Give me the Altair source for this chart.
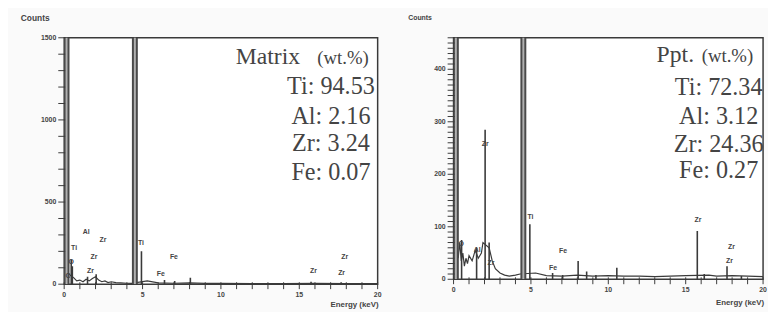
import altair as alt
import pandas as pd

# ---------------- data ----------------
energy_ticks = list(range(0, 21))
energy_labels = [0, 5, 10, 15, 20]

# Matrix spectrum (left)
m_bg_e = [0.3, 0.6, 0.8, 1.0, 1.2, 1.4, 1.6, 1.8, 2.0, 2.2, 2.4, 2.6, 2.8, 3.0, 3.3, 3.6, 4.0, 4.3,
          5.3, 6.0, 7.0, 8.0, 9.0, 10.0, 12.0, 14.0, 16.0, 18.0, 20.0]
m_bg_c = [60, 40, 20, 25, 15, 30, 20, 35, 45, 25, 15, 20, 10, 15, 10, 8, 6, 5,
          20, 8, 6, 8, 5, 5, 4, 4, 5, 4, 3]
m_pk_e = [0.45, 0.52, 1.49, 2.04, 4.93, 6.40, 7.05, 8.05, 15.75, 17.67]
m_pk_c = [150, 110, 45, 60, 200, 25, 20, 40, 15, 12]
m_mj_e = [0.15, 4.51]
m_mj_c = [3000, 9000]
m_lab_t = ["C", "O", "Ti", "Al", "Zr", "Zr", "Zr", "Ti", "Fe", "Fe", "Zr", "Zr", "Zr"]
m_lab_e = [0.25, 0.44, 0.63, 1.4, 1.9, 2.48, 1.68, 4.9, 7.0, 6.16, 15.9, 17.7, 17.9]
m_lab_c = [48, 132, 222, 318, 168, 270, 78, 252, 168, 60, 78, 66, 168]
m_yticks = list(range(0, 1501, 100))
m_ylabels = [0, 500, 1000, 1500]
m_head = "Matrix"
m_comp = ["Ti: 94.53", "Al: 2.16", "Zr: 3.24", "Fe: 0.07"]

# Precipitate spectrum (right)
p_bg_e = [0.3, 0.4, 0.5, 0.6, 0.7, 0.8, 0.9, 1.0, 1.2, 1.4, 1.6, 1.8, 1.9, 2.3, 2.5, 2.7, 3.0,
          3.3, 3.6, 4.0, 4.3, 5.3, 6.0, 7.0, 8.0, 9.0, 10.0, 11.0, 12.0, 13.0, 14.0, 15.0,
          16.5, 17.0, 18.0, 19.0, 20.0]
p_bg_c = [40, 70, 35, 50, 25, 40, 30, 45, 35, 55, 40, 50, 70, 60, 35, 20, 12,
          8, 6, 8, 10, 12, 7, 6, 8, 6, 7, 6, 6, 5, 6, 7,
          8, 6, 7, 6, 5]
p_pk_e = [0.52, 1.49, 2.04, 2.30, 4.93, 6.40, 7.05, 8.05, 8.60, 9.20, 10.55, 15.75, 16.20, 17.67, 18.60]
p_pk_c = [75, 60, 285, 70, 105, 12, 8, 35, 15, 8, 22, 92, 10, 25, 6]
p_mj_e = [0.15, 4.51]
p_mj_c = [2000, 3000]
p_lab_t = ["O", "Al", "Zr", "Zr", "Ti", "Fe", "Fe", "Zr", "Zr", "Zr"]
p_lab_e = [0.5, 1.53, 2.04, 2.42, 4.97, 7.07, 6.43, 15.8, 17.96, 17.83]
p_lab_c = [67, 56, 258, 30, 118, 54, 22, 112, 62, 34]
p_yticks = list(range(0, 461, 10))
p_ylabels = [0, 100, 200, 300, 400]
p_head = "Ppt."
p_comp = ["Ti: 72.34", "Al: 3.12", "Zr: 24.36", "Fe: 0.27"]

unit_text = "(wt.%)"

INK = "#3a3a3a"
TXT = "#444444"
SMALL = dict(fontSize=7, color=TXT, font="Liberation Sans", fontWeight="bold")
XMAX = 20


def panel(bg_e, bg_c, pk_e, pk_c, mj_e, mj_c, lab_t, lab_e, lab_c, yticks, ylabels,
          head, comp, ymax, w, h,
          head_x, unit_x, title_y, comp_x, comp_y, counts_x, counts_size, energy_x, energy_dy):
    xs = alt.Scale(domain=[0, XMAX], nice=False)
    ys = alt.Scale(domain=[0, ymax], nice=False)

    def X(f):
        return alt.X(f, type="quantitative", scale=xs, axis=None)

    def Y(f):
        return alt.Y(f, type="quantitative", scale=ys, axis=None)

    # tick lengths expressed through the scales (pixels -> data units)
    py = ymax / h
    px = XMAX / w

    bg = pd.DataFrame({"e": bg_e, "c": bg_c})
    pk = pd.DataFrame({"e": pk_e, "c": pk_c, "z": [0] * len(pk_e)})
    mj = pd.DataFrame({"e": mj_e, "c": mj_c, "z": [0] * len(mj_e)})
    lab = pd.DataFrame({"t": lab_t, "e": lab_e, "c": lab_c})
    cmp = pd.DataFrame({"t": comp, "e": [comp_x] * len(comp), "c": comp_y})
    hd = pd.DataFrame({"t": [head], "e": [head_x], "c": [title_y]})
    un = pd.DataFrame({"t": [unit_text], "e": [unit_x], "c": [title_y]})
    xt = pd.DataFrame({"v": energy_ticks, "a": [2 * py] * len(energy_ticks),
                       "b": [-5 * py] * len(energy_ticks)})
    xl = pd.DataFrame({"v": energy_labels})
    yt = pd.DataFrame({"v": yticks, "a": [-6 * px] * len(yticks), "b": [1 * px] * len(yticks)})
    yl = pd.DataFrame({"v": ylabels})

    line = alt.Chart(bg).mark_line(color=INK, strokeWidth=1.2, clip=True).encode(x=X("e"), y=Y("c"))
    rules = alt.Chart(pk).mark_rule(color=INK, strokeWidth=1.6, clip=True).encode(
        x=X("e"), y=Y("c"), y2="z:Q")
    majors = alt.Chart(mj).mark_rule(color="#4a4a4a", strokeWidth=6, clip=True).encode(
        x=X("e"), y=Y("c"), y2="z:Q")
    majors_in = alt.Chart(mj).mark_rule(color="#b0b0b0", strokeWidth=2, clip=True).encode(
        x=X("e"), y=Y("c"), y2="z:Q")
    labels = alt.Chart(lab).mark_text(**SMALL).encode(x=X("e"), y=Y("c"), text="t:N")

    xtick = alt.Chart(xt).mark_rule(color=INK, strokeWidth=1).encode(
        x=X("v"), y=Y("a"), y2="b:Q")
    xlab = alt.Chart(xl).mark_text(baseline="middle", **SMALL).encode(
        x=X("v"), y=alt.value(h + 11), text=alt.Text("v:Q", format="d"))
    ytick = alt.Chart(yt).mark_rule(color=INK, strokeWidth=1).encode(
        y=Y("v"), x=X("a"), x2="b:Q")
    ylab = alt.Chart(yl).mark_text(align="right", baseline="middle", **SMALL).encode(
        y=Y("v"), x=alt.value(-8), text=alt.Text("v:Q", format="d"))

    headt = alt.Chart(hd).mark_text(
        align="right", baseline="alphabetic", font="Liberation Serif", fontSize=24, color=TXT
    ).encode(x=X("e"), y=Y("c"), text="t:N")
    unitt = alt.Chart(un).mark_text(
        align="right", baseline="alphabetic", font="Liberation Serif", fontSize=19, color=TXT
    ).encode(x=X("e"), y=Y("c"), text="t:N")
    compt = alt.Chart(cmp).mark_text(
        align="center", baseline="alphabetic", font="Liberation Serif", fontSize=24.5, color=TXT
    ).encode(x=X("e"), y=Y("c"), text="t:N")
    counts = alt.Chart(pd.DataFrame({"t": ["Counts"]})).mark_text(
        align="left", baseline="middle", fontSize=counts_size, color=TXT, font="Liberation Sans",
        fontWeight="bold"
    ).encode(x=alt.value(counts_x), y=alt.value(-20), text="t:N")
    energy = alt.Chart(pd.DataFrame({"t": ["Energy (keV)"]})).mark_text(
        align="right", baseline="middle", fontSize=8, color=TXT, font="Liberation Sans",
        fontWeight="bold"
    ).encode(x=alt.value(energy_x), y=alt.value(h + energy_dy), text="t:N")

    return alt.layer(line, rules, majors, majors_in, labels, xtick, xlab, ytick, ylab,
                     headt, unitt, compt, counts, energy).properties(width=w, height=h)


left = panel(m_bg_e, m_bg_c, m_pk_e, m_pk_c, m_mj_e, m_mj_c, m_lab_t, m_lab_e, m_lab_c,
             m_yticks, m_ylabels, m_head, m_comp, 1500, 318, 250,
             head_x=15.05, unit_x=19.43, title_y=1338, comp_x=17.02,
             comp_y=[1158, 978, 810, 636], counts_x=-44, counts_size=8.5,
             energy_x=319, energy_dy=21)
right = panel(p_bg_e, p_bg_c, p_pk_e, p_pk_c, p_mj_e, p_mj_c, p_lab_t, p_lab_e, p_lab_c,
              p_yticks, p_ylabels, p_head, p_comp, 460, 314, 245,
              head_x=15.54, unit_x=19.36, title_y=413, comp_x=17.13,
              comp_y=[351, 295, 243, 193], counts_x=-46, counts_size=7,
              energy_x=315, energy_dy=24)

chart = alt.hconcat(left, right, spacing=25).properties(
    padding={"left": 12, "top": 3, "right": 0, "bottom": 0},
    background="#fafafa",
).configure_view(stroke=INK, strokeWidth=1.5, fill="white")

chart.save("out.html", embed_options={"renderer": "svg", "actions": False})
